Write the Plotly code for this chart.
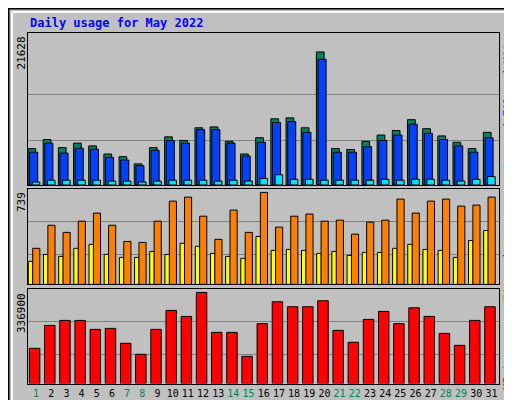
import plotly.graph_objects as go
from plotly.subplots import make_subplots

days = list(range(1, 32))
weekend = [1, 7, 8, 14, 15, 21, 22, 28, 29]

hits = [5920, 7390, 6070, 6800, 6360, 5040, 4600, 3430, 6070, 7830, 7240, 9300, 9440, 7100, 5040, 7680,
        10760, 10910, 9300, 21628, 5920, 5770, 7100, 8120, 8860, 10620, 9150, 7980, 6950, 5920, 8560]
files = [5330, 6800, 5180, 5970, 5820, 4500, 4060, 3130, 5630, 7240, 6800, 9000, 9000, 6800, 4700, 6950,
         10170, 10320, 8560, 20430, 5330, 5330, 6220, 7240, 8120, 9890, 8410, 7390, 6360, 5330, 7680]
pages = [490, 780, 780, 780, 780, 640, 640, 490, 640, 780, 780, 780, 640, 780, 640, 1080,
         1660, 930, 930, 780, 780, 780, 780, 930, 780, 930, 930, 780, 640, 930, 1370]
visits = [290, 475, 418, 508, 573, 475, 345, 337, 508, 669, 701, 548, 362, 597, 418, 739,
          460, 548, 565, 508, 516, 404, 500, 516, 685, 573, 669, 685, 629, 637, 701]
sites = [185, 241, 225, 290, 322, 241, 217, 217, 265, 241, 330, 306, 249, 225, 209, 385,
         273, 281, 273, 249, 265, 233, 257, 257, 290, 322, 281, 273, 217, 353, 433]
kbytes = [130400, 215200, 233600, 233600, 200400, 204100, 149000, 108200, 200400, 270500, 248300, 336900,
          189300, 189300, 100800, 221400, 302500, 284000, 284000, 306200, 196700, 152700, 237300, 266800,
          221400, 280300, 248300, 185600, 141400, 233600, 284000]

BG = "#C0C0C0"
HITS_C, FILES_C, PAGES_C = "#00805C", "#0040FF", "#00E0FF"
SITES_C, VISITS_C, KB_C = "#FF8000", "#FFFF00", "#FF0000"

fig = make_subplots(rows=3, cols=1)

def bars(y, color, offset, width, row):
    fig.add_trace(go.Bar(x=days, y=y, offset=offset, width=width, marker_color=color,
                         marker_line=dict(color="black", width=1), showlegend=False,
                         hoverinfo="skip"), row=row, col=1)

bars(hits, HITS_C, -0.53, 0.51, 1)
bars(files, FILES_C, -0.42, 0.53, 1)
bars(pages, PAGES_C, -0.25, 0.5, 1)
bars(sites, VISITS_C, -0.51, 0.3, 2)
bars(visits, SITES_C, -0.22, 0.47, 2)
bars(kbytes, KB_C, -0.44, 0.69, 3)

fig.update_layout(barmode="overlay", width=512, height=400, paper_bgcolor=BG, plot_bgcolor=BG,
                  margin=dict(l=0, r=0, t=0, b=0, autoexpand=False),
                  font=dict(family="DejaVu Sans Mono", size=11, color="black"))

doms = [(0.5575, 0.9375), (0.309, 0.548), (0.061, 0.298)]
ranges = [24711, 768, 350400]
grids = [[7242, 14730], [241, 506], [108200, 229900]]
for i in range(3):
    fig.update_yaxes(row=i + 1, col=1, domain=doms[i], range=[0, ranges[i]], tickvals=grids[i],
                     showticklabels=False, ticks="", gridcolor="#808080", gridwidth=1, automargin=False,
                     showline=True, linecolor="black", mirror=True, zeroline=False)
    fig.update_xaxes(row=i + 1, col=1, domain=[20 / 512, 491 / 512], range=[0.47, 31.5],
                     showgrid=False, showline=True, linecolor="black", mirror=True, automargin=False,
                     showticklabels=False, ticks="")

ticktext = [f"<span style='color:#00805C'>{d}</span>" if d in weekend else str(d) for d in days]
fig.update_xaxes(row=3, col=1, showticklabels=True, tickvals=days, ticktext=ticktext,
                 tickangle=0, tickfont=dict(size=10))

fig.add_annotation(text="<b>Daily usage for May 2022</b>", x=20 / 512, y=1 - 15 / 400, xref="paper", yref="paper",
                   xanchor="left", yanchor="middle", showarrow=False, font=dict(color="#0000FF", size=12))
maxes = [("21628", 1 - 27 / 400), ("739", 1 - 182 / 400), ("336900", 1 - 283 / 400)]
for t, y in maxes:
    fig.add_annotation(text=t, x=13 / 512, y=y, xref="paper", yref="paper", textangle=-90,
                       xanchor="center", yanchor="top", showarrow=False, font=dict(size=11))
side = [(f"<span style='color:{PAGES_C}'>Pages</span> / <span style='color:{FILES_C}'>Files</span> / "
         f"<span style='color:{HITS_C}'>Hits</span>", 1 - 27 / 400),
        (f"<span style='color:{SITES_C}'>Sites</span> / <span style='color:{VISITS_C}'>Visits</span>", 1 - 198 / 400),
        (f"<span style='color:{KB_C}'>KBytes</span>", 1 - 340 / 400)]
for t, y in side:
    fig.add_annotation(text=t, x=499 / 512, y=y, xref="paper", yref="paper", textangle=-90,
                       xanchor="center", yanchor="top", showarrow=False, font=dict(size=11))

# bevelled frame
fig.add_shape(type="rect", xref="paper", yref="paper", x0=0.001, y0=0.001, x1=0.999, y1=0.999,
              line=dict(color="black", width=2))
fig.add_shape(type="line", xref="paper", yref="paper", x0=0.008, y0=0.99, x1=0.99, y1=0.99,
              line=dict(color="white", width=2))
fig.add_shape(type="line", xref="paper", yref="paper", x0=0.008, y0=0.99, x1=0.008, y1=0.01,
              line=dict(color="white", width=2))
fig.add_shape(type="line", xref="paper", yref="paper", x0=0.008, y0=0.01, x1=0.99, y1=0.01,
              line=dict(color="#808080", width=2))
fig.add_shape(type="line", xref="paper", yref="paper", x0=0.99, y0=0.01, x1=0.99, y1=0.99,
              line=dict(color="#808080", width=2))

fig.write_html("out.html")
